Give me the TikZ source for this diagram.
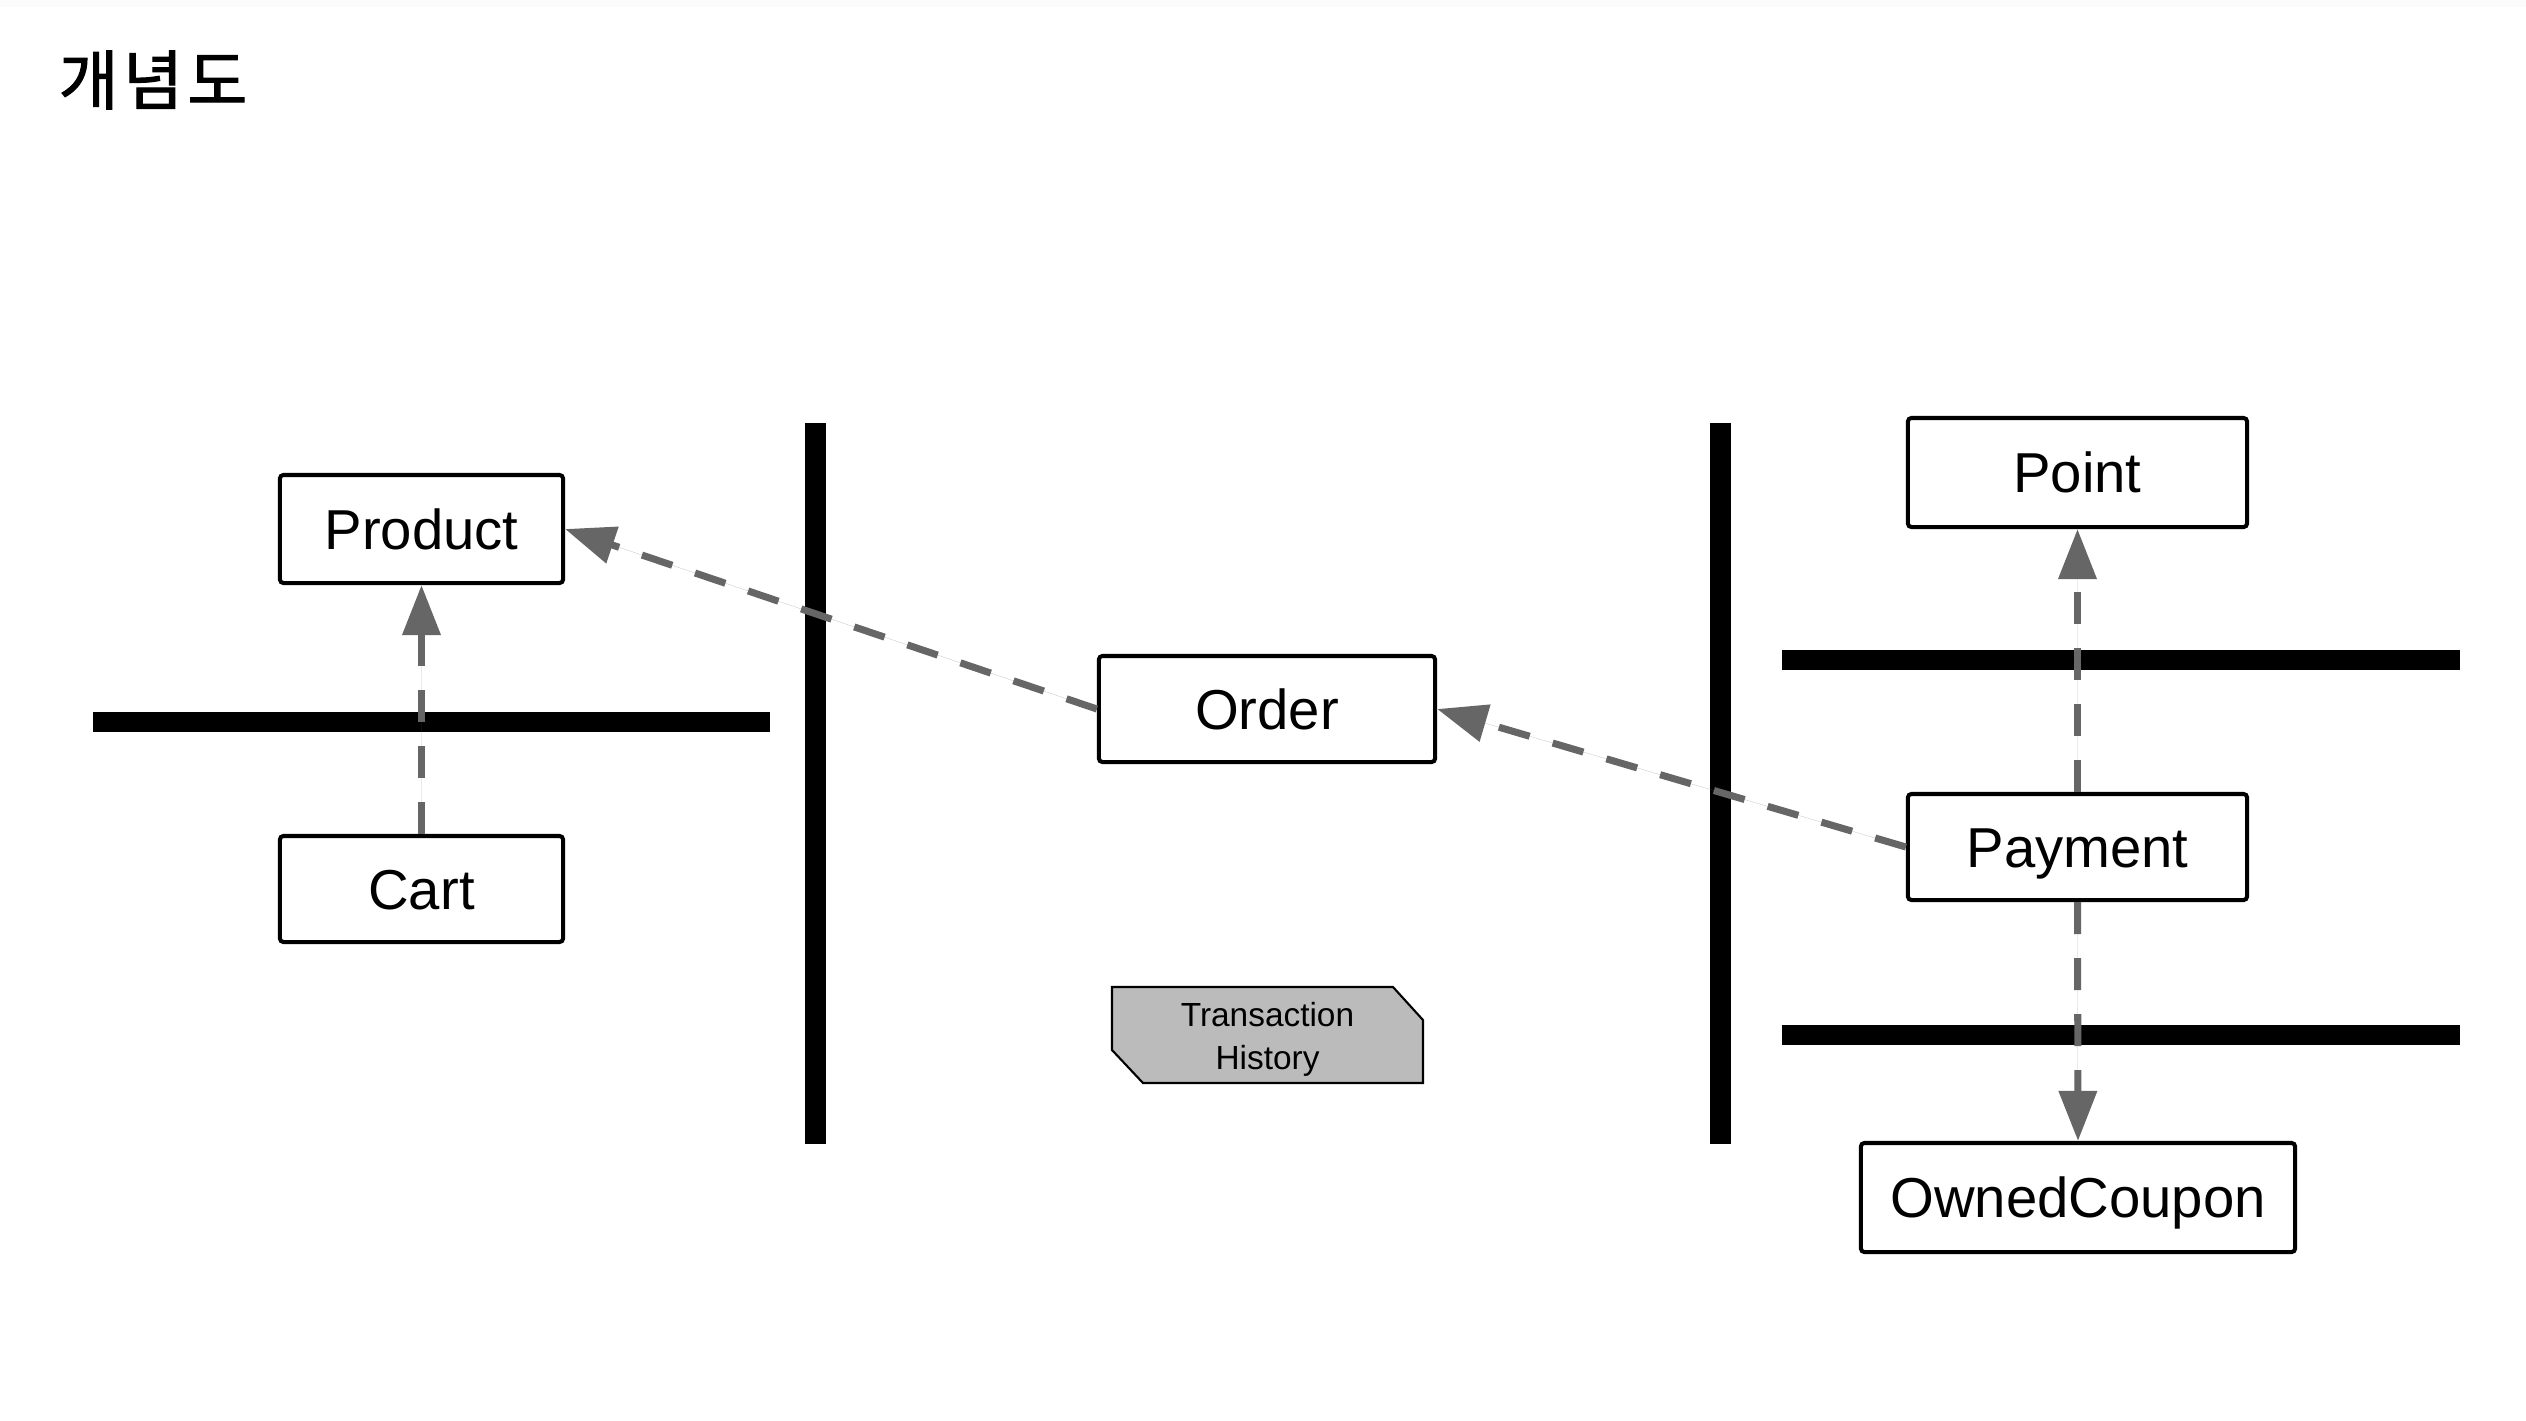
\documentclass[tikz,border=0pt]{standalone}
\usepackage{fontspec}
\setmainfont{Liberation Sans}
\newfontfamily\krfont{Noto Sans CJK KR}[FakeBold=1.6, LetterSpace=7]
\usetikzlibrary{arrows.meta,calc}

\begin{document}
\begin{tikzpicture}[x=0.01cm,y=-0.01cm,
  entity/.style={draw=black, line width=1.15pt, rounded corners=1pt, fill=white,
    inner sep=0pt, text height=11.6pt, text depth=0pt, font=\fontsize{16}{19}\selectfont},
  dep/.style={draw=depgray, line width=2pt, dash pattern=on 0.32cm off 0.24cm,
    -{Triangle[length=0.5cm,width=0.37cm]}, fill=depgray},
  wall/.style={line width=0.2cm, black},
  note/.style={draw=black, line width=0.6pt, fill=notegray}
]
\definecolor{depgray}{HTML}{666666}
\definecolor{notegray}{HTML}{BBBBBB}
\definecolor{topband}{HTML}{FBFBFB}

\useasboundingbox (0,0) rectangle (2526,1420);
\fill[white] (0,0) rectangle (2526,1420);
\fill[topband] (0,0) rectangle (2526,7);

% heading
\node[anchor=west, inner sep=0pt, font=\krfont\fontsize{18.5}{22}\selectfont] (title) at (58,80) {개념도};

% boundaries
\draw[wall] (93,722) -- (770,722);
\draw[line width=0.21cm] (815,423) -- (815,1144);
\draw[line width=0.21cm] (1720,423) -- (1720,1144);
\draw[wall] (1782,660) -- (2460,660);
\draw[wall] (1782,1035) -- (2460,1035);

% entities
\node[entity, minimum width=2.83cm, minimum height=1.08cm] (product) at (421.5,529) {Product};
\node[entity, minimum width=2.83cm, minimum height=1.06cm] (cart) at (421.5,889) {Cart};
\node[entity, minimum width=3.36cm, minimum height=1.06cm] (order) at (1267,709) {Order};
\node[entity, minimum width=3.39cm, minimum height=1.09cm] (point) at (2077.5,472.5) {Point};
\node[entity, minimum width=3.39cm, minimum height=1.06cm] (payment) at (2077.5,847) {Payment};
\node[entity, minimum width=4.34cm, minimum height=1.09cm] (coupon) at (2078,1197.5) {OwnedCoupon};

% transaction history tag
\coordinate (thc) at (1267.5,1035);
\draw[note] ($(thc)+(-155.5,-48)$) -- ($(thc)+(125.5,-48)$) -- ($(thc)+(155.5,-15)$)
  -- ($(thc)+(155.5,48)$) -- ($(thc)+(-124.5,48)$) -- ($(thc)+(-155.5,15)$) -- cycle;
\node[align=center, inner sep=0pt, font=\fontsize{9.5}{12.2}\selectfont] (history) at ($(thc)+(0,4)$) {Transaction\\History};

% dependencies
\draw[dep] (cart.north) -- (product.south);
\draw[dep] (order.west) -- (product.east);
\draw[dep] (payment.west) -- (order.east);
\draw[dep] (payment.north) -- (point.south);
\draw[dep] (payment.south) -- (coupon.north);
\end{tikzpicture}
\end{document}
